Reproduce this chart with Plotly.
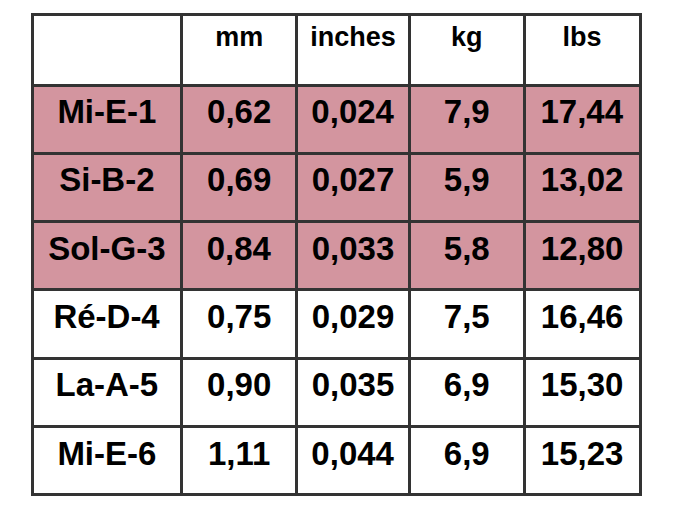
import plotly.graph_objects as go

headers = ["", "mm", "inches", "kg", "lbs"]
names = ["Mi-E-1", "Si-B-2", "Sol-G-3", "Ré-D-4", "La-A-5", "Mi-E-6"]
mm = ["0,62", "0,69", "0,84", "0,75", "0,90", "1,11"]
inches = ["0,024", "0,027", "0,033", "0,029", "0,035", "0,044"]
kg = ["7,9", "5,9", "5,8", "7,5", "6,9", "6,9"]
lbs = ["17,44", "13,02", "12,80", "16,46", "15,30", "15,23"]
highlighted = [True, True, True, False, False, False]

pink = "#d3959f"
row_colors = [pink if h else "white" for h in highlighted]
cols = [names, mm, inches, kg, lbs]

font_fam = "Liberation Sans, Arial"

fig = go.Figure(go.Table(
    domain=dict(x=[24/674, 632/674], y=[0, 1 - 6/506]),
    columnwidth=[150, 115, 113, 115, 116],
    header=dict(
        values=[f"<b>{h}</b>" if h else "" for h in headers],
        fill_color="white",
        line=dict(color="#333333", width=3),
        align="center",
        height=71,
        font=dict(family=font_fam, size=27, color="black"),
    ),
    cells=dict(
        values=[[f"<b>{v}</b>" for v in c] for c in cols],
        fill_color=[row_colors] * 5,
        line=dict(color="#333333", width=3),
        align="center",
        height=68.3,
        font=dict(family=font_fam, size=33, color="black"),
    ),
))
fig.update_layout(width=674, height=506, margin=dict(l=0, r=0, t=0, b=0),
                  paper_bgcolor="white")
fig.write_html("out.html")
